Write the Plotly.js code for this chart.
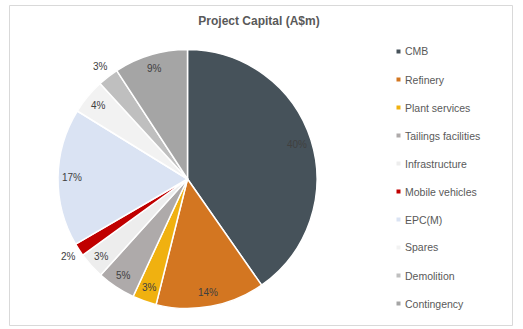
<!DOCTYPE html>
<html>
<head>
<meta charset="utf-8">
<script src="https://cdn.plot.ly/plotly-3.0.1.min.js"></script>
<style>
  html, body { margin: 0; padding: 0; background: #ffffff; }
  #chart { width: 523px; height: 329px; }
</style>
</head>
<body>
<div id="chart"></div>
<script>
// ---- Data ----
const categories = ["CMB", "Refinery", "Plant services", "Tailings facilities", "Infrastructure",
                    "Mobile vehicles", "EPC(M)", "Spares", "Demolition", "Contingency"];
const shares = [40.3, 13.6, 3.0, 4.8, 3.3, 1.6, 17.2, 4.4, 2.6, 9.2];
const sliceColors = ["#46525a", "#d37621", "#f0b110", "#aeaaaa", "#ededed",
                     "#c00000", "#dae3f3", "#f2f2f2", "#bfbfbf", "#a5a5a5"];
const labelOutside = [false, false, false, false, false, true, false, false, true, false];
const chartTitle = "Project Capital (A$m)";

// ---- Layout geometry (pixels) ----
const W = 523, H = 329;
const pieLeft = 58, pieRight = 317, pieTop = 49.5, pieBottom = 308.5;
const cx = (pieLeft + pieRight) / 2, cy = (pieTop + pieBottom) / 2;
const R = Math.min(pieRight - pieLeft, pieBottom - pieTop) / 2;
const px2x = p => p / W;
const px2y = p => 1 - p / H;

const total = shares.reduce((a, b) => a + b, 0);

// percentage labels, placed from slice angles computed from the data
const annotations = [];
let cum = 0;
shares.forEach((v, i) => {
  const mid = (cum + v / 2) / total;
  cum += v;
  const th = 2 * Math.PI * mid;
  const r = labelOutside[i] ? R * 1.1 : R * 0.89;
  const xp = cx + r * Math.sin(th);
  const yp = cy - r * Math.cos(th);
  annotations.push({
    xref: "paper", yref: "paper",
    x: px2x(xp), y: px2y(yp),
    xanchor: "center", yanchor: "middle",
    text: Math.round(v / total * 100) + "%",
    showarrow: false,
    font: { family: "Liberation Sans, Arial, sans-serif", size: 10, color: "#404040" }
  });
});

// legend built from the categories
const legTop = 51.5, legStep = 28, legTextX = 403, legMarkX = 398.5, legMark = 4;
const shapes = [];
categories.forEach((c, i) => {
  const yc = legTop + i * legStep;
  annotations.push({
    xref: "paper", yref: "paper",
    x: px2x(legTextX), y: px2y(yc),
    xanchor: "left", yanchor: "middle",
    text: c, showarrow: false,
    font: { family: "Liberation Sans, Arial, sans-serif", size: 10.5, color: "#595959" }
  });
  shapes.push({
    type: "rect", xref: "paper", yref: "paper",
    x0: px2x(legMarkX - legMark / 2), x1: px2x(legMarkX + legMark / 2),
    y0: px2y(yc + legMark / 2), y1: px2y(yc - legMark / 2),
    fillcolor: sliceColors[i], line: { width: 0 }
  });
});

// chart border
shapes.push({
  type: "rect", xref: "paper", yref: "paper",
  x0: px2x(9.5), x1: px2x(512.5), y0: px2y(325.5), y1: px2y(5.5),
  line: { color: "#d9d9d9", width: 1 }, fillcolor: "rgba(0,0,0,0)"
});

const trace = {
  type: "pie",
  labels: categories,
  values: shares,
  sort: false,
  direction: "clockwise",
  rotation: 0,
  hole: 0,
  textinfo: "none",
  showlegend: false,
  marker: { colors: sliceColors, line: { color: "#ffffff", width: 1.5 } },
  domain: { x: [px2x(pieLeft), px2x(pieRight)], y: [px2y(pieBottom), px2y(pieTop)] }
};

const layout = {
  width: W, height: H,
  margin: { l: 0, r: 0, t: 0, b: 0 },
  paper_bgcolor: "#ffffff",
  plot_bgcolor: "#ffffff",
  showlegend: false,
  title: {
    text: "<b>" + chartTitle + "</b>",
    x: px2x(259), xanchor: "center",
    y: px2y(21), yanchor: "middle",
    font: { family: "Liberation Sans, Arial, sans-serif", size: 12, color: "#595959" }
  },
  annotations: annotations,
  shapes: shapes
};

Plotly.newPlot("chart", [trace], layout, { displayModeBar: false, staticPlot: true });
</script>
</body>
</html>
